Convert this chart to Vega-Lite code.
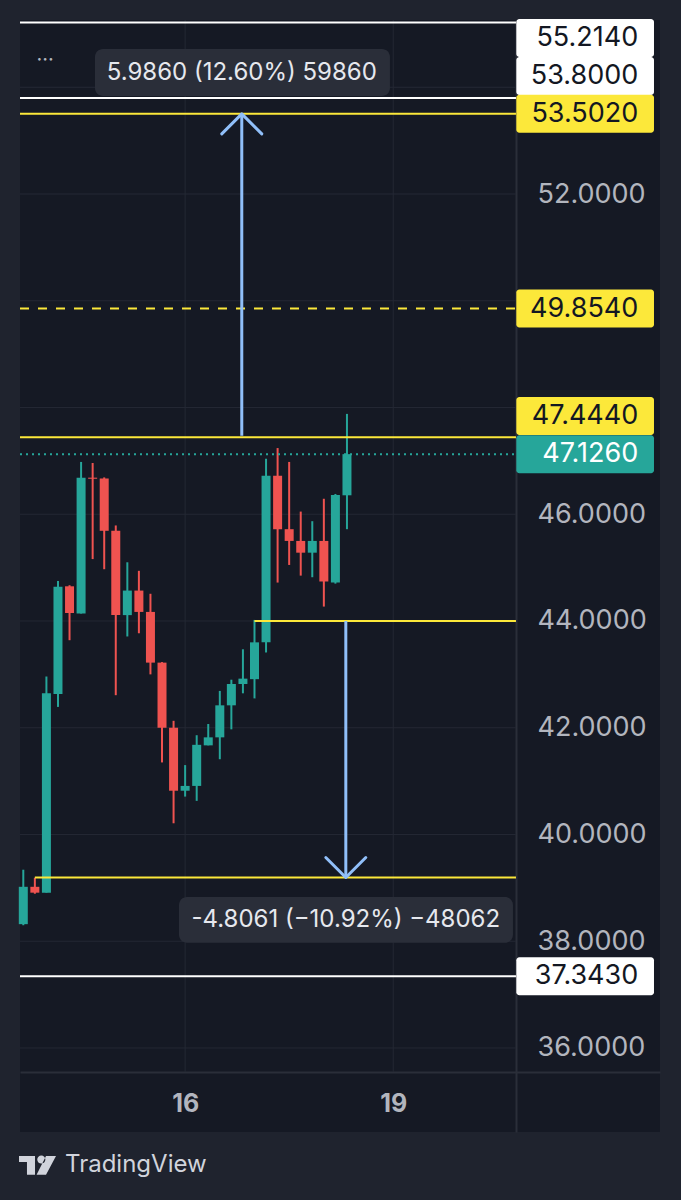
{
  "$schema": "https://vega.github.io/schema/vega-lite/v6.json",
  "width": 640,
  "height": 1112,
  "autosize": {"type": "none"},
  "padding": {"left": 20, "top": 20, "right": 21, "bottom": 68},
  "background": "#1f232e",
  "config": {
    "view": {"stroke": null, "fill": "#151924"},
    "font": "Inter",
    "axis": {"grid": false, "ticks": false, "domainColor": "#2a2e39", "domainWidth": 2}
  },
  "datasets": {
    "candles": [
      {"i": 0, "open": 38.32, "high": 39.34, "low": 38.30, "close": 39.02},
      {"i": 1, "open": 39.02, "high": 39.19, "low": 38.89, "close": 38.91},
      {"i": 2, "open": 38.91, "high": 42.96, "low": 38.91, "close": 42.645},
      {"i": 3, "open": 42.63, "high": 44.75, "low": 42.39, "close": 44.64},
      {"i": 4, "open": 44.65, "high": 44.67, "low": 43.64, "close": 44.15},
      {"i": 5, "open": 44.14, "high": 46.98, "low": 44.14, "close": 46.685},
      {"i": 6, "open": 46.685, "high": 46.96, "low": 45.16, "close": 46.665},
      {"i": 7, "open": 46.67, "high": 46.69, "low": 44.97, "close": 45.69},
      {"i": 8, "open": 45.69, "high": 45.79, "low": 42.61, "close": 44.11},
      {"i": 9, "open": 44.11, "high": 45.10, "low": 43.71, "close": 44.57},
      {"i": 10, "open": 44.57, "high": 44.94, "low": 43.77, "close": 44.17},
      {"i": 11, "open": 44.17, "high": 44.51, "low": 43.00, "close": 43.22},
      {"i": 12, "open": 43.22, "high": 43.23, "low": 41.35, "close": 42.00},
      {"i": 13, "open": 42.00, "high": 42.13, "low": 40.21, "close": 40.82},
      {"i": 14, "open": 40.82, "high": 41.30, "low": 40.71, "close": 40.91},
      {"i": 15, "open": 40.91, "high": 41.86, "low": 40.63, "close": 41.68},
      {"i": 16, "open": 41.67, "high": 42.07, "low": 41.67, "close": 41.82},
      {"i": 17, "open": 41.82, "high": 42.69, "low": 41.41, "close": 42.42},
      {"i": 18, "open": 42.42, "high": 42.90, "low": 41.97, "close": 42.82},
      {"i": 19, "open": 42.82, "high": 43.47, "low": 42.645, "close": 42.92},
      {"i": 20, "open": 42.91, "high": 44.02, "low": 42.55, "close": 43.60},
      {"i": 21, "open": 43.60, "high": 47.04, "low": 43.41, "close": 46.72},
      {"i": 22, "open": 46.72, "high": 47.24, "low": 44.72, "close": 45.72},
      {"i": 23, "open": 45.72, "high": 46.98, "low": 45.05, "close": 45.50},
      {"i": 24, "open": 45.50, "high": 46.05, "low": 44.85, "close": 45.28},
      {"i": 25, "open": 45.28, "high": 45.87, "low": 44.82, "close": 45.50},
      {"i": 26, "open": 45.50, "high": 46.29, "low": 44.27, "close": 44.74},
      {"i": 27, "open": 44.72, "high": 46.38, "low": 44.70, "close": 46.36},
      {"i": 28, "open": 46.355, "high": 47.88, "low": 45.72, "close": 47.126}
    ],
    "levels": [
      {"price": 55.214, "from": -0.285, "kind": "bound", "tag": 54.923},
      {"price": 53.8, "from": -0.285, "kind": "bound", "tag": 54.211},
      {"price": 53.502, "from": -0.285, "kind": "target", "tag": 53.502},
      {"price": 49.854, "from": -0.285, "kind": "mid", "tag": 49.854},
      {"price": 47.444, "from": -0.285, "kind": "target", "tag": 47.841},
      {"price": 47.126, "from": -0.285, "kind": "last", "tag": 47.126},
      {"price": 44.0, "from": 20, "kind": "target"},
      {"price": 39.1939, "from": 1, "kind": "target"},
      {"price": 37.343, "from": -0.285, "kind": "bound", "tag": 37.343}
    ],
    "hgrid": [
      {"price": 36}, {"price": 38}, {"price": 40}, {"price": 42}, {"price": 44},
      {"price": 46}, {"price": 48}, {"price": 50}, {"price": 52}, {"price": 54}
    ],
    "vgrid": [{"i": 14}, {"i": 32}],
    "arrows": [
      {"at": 18.9, "from": 47.47, "to": 53.502, "dir": "up"},
      {"at": 27.9, "from": 44.0, "to": 39.1939, "dir": "down"}
    ]
  },
  "layer": [
    {
      "data": {"name": "hgrid"},
      "mark": {"type": "rule", "color": "#242834", "strokeWidth": 1},
      "encoding": {
        "x": {"datum": -0.285, "type": "quantitative"},
        "x2": {"datum": 42.62},
        "y": {"field": "price", "type": "quantitative"}
      }
    },
    {
      "data": {"name": "vgrid"},
      "mark": {"type": "rule", "color": "#242834", "strokeWidth": 1},
      "encoding": {
        "x": {"field": "i", "type": "quantitative"},
        "y": {"datum": 55.26, "type": "quantitative"},
        "y2": {"datum": 35.55}
      }
    },
    {
      "data": {"name": "candles"},
      "mark": {"type": "rule", "strokeWidth": 2},
      "encoding": {
        "x": {
          "field": "i", "type": "quantitative",
          "scale": {"domain": [-0.285, 55.08], "nice": false, "zero": false, "padding": 0},
          "axis": {
            "orient": "bottom", "offset": -60, "values": [14, 32], "title": null,
            "grid": false, "ticks": false,
            "labelExpr": "datum.value == 14 ? '16' : '19'",
            "labelFont": "Inter", "labelFontSize": 25, "labelFontWeight": "bold",
            "labelColor": "#b2b5be", "labelPadding": 31, "labelBaseline": "middle"
          }
        },
        "y": {
          "field": "low", "type": "quantitative",
          "scale": {"domain": [34.426, 55.26], "nice": false, "zero": false, "padding": 0},
          "axis": {
            "orient": "right", "offset": -144, "values": [36, 38, 40, 42, 44, 46, 52], "title": null,
            "grid": false, "ticks": false,
            "format": ".4f", "labelFont": "Inter", "labelFontSize": 27,
            "labelColor": "#b2b5be", "labelPadding": 21, "labelAlign": "left", "labelBaseline": "middle"
          }
        },
        "y2": {"field": "high"},
        "color": {"condition": {"test": "datum.close >= datum.open", "value": "#26a69a"}, "value": "#ef5350"}
      }
    },
    {
      "data": {"name": "candles"},
      "mark": {"type": "bar", "size": 9},
      "encoding": {
        "x": {"field": "i", "type": "quantitative"},
        "y": {"field": "open", "type": "quantitative"},
        "y2": {"field": "close"},
        "color": {"condition": {"test": "datum.close >= datum.open", "value": "#26a69a"}, "value": "#ef5350"}
      }
    },
    {
      "data": {"name": "levels"},
      "mark": {"type": "rule", "strokeWidth": 2},
      "encoding": {
        "x": {"field": "from", "type": "quantitative"},
        "x2": {"datum": 42.62},
        "y": {"field": "price", "type": "quantitative"},
        "color": {
          "field": "kind", "type": "nominal", "legend": null,
          "scale": {"domain": ["bound", "target", "mid", "last"], "range": ["#ffffff", "#fce83a", "#fce83a", "#26a69a"]}
        },
        "strokeDash": {
          "field": "kind", "type": "nominal", "legend": null,
          "scale": {"domain": ["bound", "target", "mid", "last"], "range": [[1, 0], [1, 0], [9, 9], [2, 4]]}
        }
      }
    },
    {
      "data": {"name": "arrows"},
      "mark": {"type": "rule", "strokeWidth": 3, "color": "#90bff9"},
      "encoding": {
        "x": {"field": "at", "type": "quantitative"},
        "y": {"field": "from", "type": "quantitative"},
        "y2": {"field": "to"}
      }
    },
    {
      "data": {"name": "arrows"},
      "mark": {"type": "point", "filled": false, "size": 1600, "strokeWidth": 3, "color": "#90bff9", "opacity": 1, "strokeCap": "round", "strokeJoin": "round"},
      "encoding": {
        "x": {"field": "at", "type": "quantitative"},
        "y": {"field": "to", "type": "quantitative"},
        "shape": {
          "field": "dir", "type": "nominal", "legend": null,
          "scale": {"domain": ["up", "down"], "range": ["M-1,1L0,0L1,1", "M-1,-1L0,0L1,-1"]}
        }
      }
    },
    {
      "data": {"name": "levels"},
      "transform": [{"filter": "isValid(datum.tag)"}],
      "mark": {"type": "bar", "size": 38, "cornerRadius": 3},
      "encoding": {
        "x": {"datum": 42.65, "type": "quantitative"},
        "x2": {"datum": 54.56},
        "y": {"field": "tag", "type": "quantitative"},
        "color": {"field": "kind", "type": "nominal", "legend": null}
      }
    },
    {
      "data": {"name": "levels"},
      "transform": [{"filter": "isValid(datum.tag)"}],
      "mark": {"type": "text", "align": "right", "baseline": "middle", "fontSize": 27, "font": "Inter"},
      "encoding": {
        "x": {"datum": 53.2, "type": "quantitative"},
        "y": {"field": "tag", "type": "quantitative"},
        "text": {"field": "price", "type": "quantitative", "format": ".4f"},
        "color": {"condition": {"test": "datum.kind == 'last'", "value": "#ffffff"}, "value": "#131722"}
      }
    },
    {
      "data": {"values": [{"note": "5.9860 (12.60%) 59860"}]},
      "layer": [
        {
          "mark": {"type": "rect", "color": "#2a2e39", "cornerRadius": 8},
          "encoding": {
            "x": {"datum": 6.2, "type": "quantitative"},
            "x2": {"datum": 31.72},
            "y": {"datum": 54.717, "type": "quantitative"},
            "y2": {"datum": 53.836}
          }
        },
        {
          "mark": {"type": "text", "align": "center", "baseline": "middle", "fontSize": 24, "color": "#e6e8ee", "font": "Inter"},
          "encoding": {
            "x": {"datum": 18.9, "type": "quantitative"},
            "y": {"datum": 54.27, "type": "quantitative"},
            "text": {"field": "note"}
          }
        }
      ]
    },
    {
      "data": {"values": [{"note": "-4.8061 (\u221210.92%) \u221248062"}]},
      "layer": [
        {
          "mark": {"type": "rect", "color": "#2a2e39", "cornerRadius": 8},
          "encoding": {
            "x": {"datum": 13.47, "type": "quantitative"},
            "x2": {"datum": 42.36},
            "y": {"datum": 38.83, "type": "quantitative"},
            "y2": {"datum": 37.97}
          }
        },
        {
          "mark": {"type": "text", "align": "center", "baseline": "middle", "fontSize": 24, "color": "#e6e8ee", "font": "Inter"},
          "encoding": {
            "x": {"datum": 27.9, "type": "quantitative"},
            "y": {"datum": 38.40, "type": "quantitative"},
            "text": {"field": "note"}
          }
        }
      ]
    },
    {
      "data": {"values": [{"t": "\u00b7\u00b7\u00b7"}]},
      "mark": {"type": "text", "align": "center", "baseline": "middle", "fontSize": 20, "color": "#b2b5be", "font": "Inter"},
      "encoding": {
        "x": {"datum": 1.88, "type": "quantitative"},
        "y": {"datum": 54.51, "type": "quantitative"},
        "text": {"field": "t"}
      }
    },
    {
      "data": {"values": [{"brand": "TradingView"}]},
      "layer": [
        {
          "mark": {"type": "point", "filled": true, "size": 1369, "color": "#d1d4dc", "opacity": 1,
            "shape": "M-1,-0.51L-0.135,-0.51L-0.135,0.51L-0.57,0.51L-0.57,-0.19L-1,-0.19Z M-0.015,-0.32A0.22,0.22 0 1,0 0.425,-0.32A0.22,0.22 0 1,0 -0.015,-0.32Z M0.46,-0.51L1,-0.51L0.46,0.51L-0.05,0.51Z"},
          "encoding": {
            "x": {"datum": 1.23, "type": "quantitative"},
            "y": {"datum": 33.80, "type": "quantitative"}
          }
        },
        {
          "mark": {"type": "text", "align": "left", "baseline": "middle", "fontSize": 24, "color": "#d1d4dc", "font": "Inter"},
          "encoding": {
            "x": {"datum": 3.61, "type": "quantitative"},
            "y": {"datum": 33.80, "type": "quantitative"},
            "text": {"field": "brand"}
          }
        }
      ]
    }
  ]
}
